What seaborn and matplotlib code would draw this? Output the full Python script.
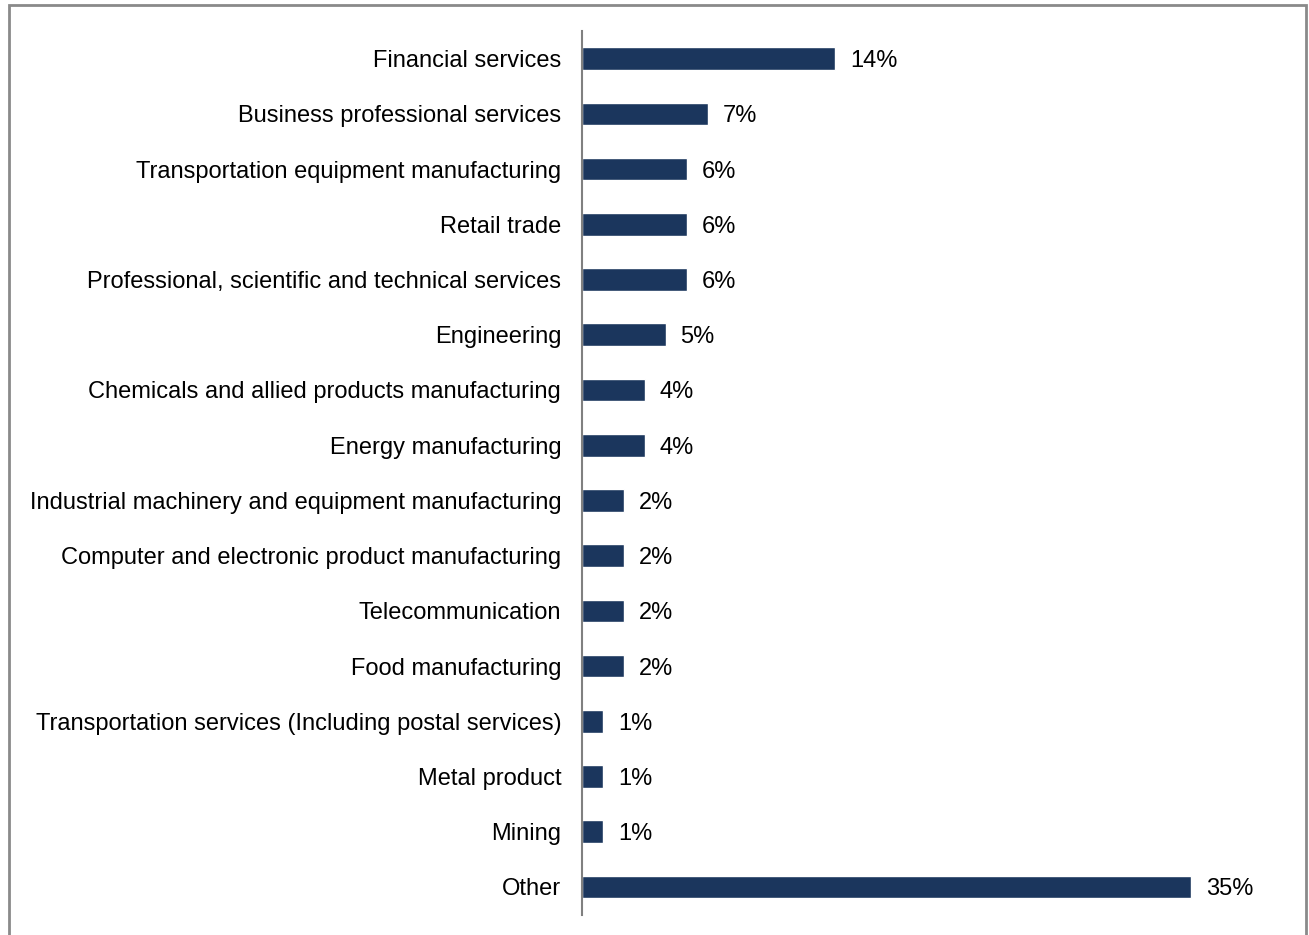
import matplotlib
matplotlib.use("Agg")
import matplotlib.pyplot as plt
from matplotlib.patches import Rectangle
import seaborn as sns
import pandas as pd

# Share of respondents by industry (percent)
industries = [
    "Financial services",
    "Business professional services",
    "Transportation equipment manufacturing",
    "Retail trade",
    "Professional, scientific and technical services",
    "Engineering",
    "Chemicals and allied products manufacturing",
    "Energy manufacturing",
    "Industrial machinery and equipment manufacturing",
    "Computer and electronic product manufacturing",
    "Telecommunication",
    "Food manufacturing",
    "Transportation services (Including postal services)",
    "Metal product",
    "Mining",
    "Other",
]
shares = [14.5, 7.2, 6.0, 6.0, 6.0, 4.8, 3.6, 3.6, 2.4, 2.4, 2.4, 2.4, 1.2, 1.2, 1.2, 34.9]

df = pd.DataFrame({"industry": industries, "share": shares})

sns.set_theme(style="white")
plt.rcParams["font.family"] = ["Liberation Sans", "DejaVu Sans"]

W, H = 1309, 935
fig = plt.figure(figsize=(W / 100, H / 100), dpi=100)
ax = fig.add_axes([582 / W, 1 - 914.6 / H, (1280 - 582) / W, (914.6 - 31) / H])

bar_color = "#1b365d"
sns.barplot(data=df, x="share", y="industry", orient="h", color=bar_color,
            width=0.41, saturation=1, ax=ax)

ax.set_xlim(0, 40)
ax.set_ylim(len(industries) - 0.5, -0.5)
ax.set_xlabel("")
ax.set_ylabel("")
ax.set_xticks([])
ax.tick_params(axis="y", length=0, pad=15, labelsize=17, labelcolor="black")

for s in ["top", "right", "bottom"]:
    ax.spines[s].set_visible(False)
ax.spines["left"].set_color("#808080")
ax.spines["left"].set_linewidth(1.5)

for i, v in enumerate(shares):
    ax.text(v + 0.85, i, f"{v:.0f}%", va="center_baseline", ha="left",
            fontsize=17, color="black")

# Outer chart border
fig.add_artist(Rectangle((8.5 / W, -0.02), (1306 - 8.5) / W, 1.02 - 4.5 / H,
                         transform=fig.transFigure, fill=False,
                         edgecolor="#8a8a8a", linewidth=2))

fig.savefig("out.png", dpi=100, facecolor="white")
